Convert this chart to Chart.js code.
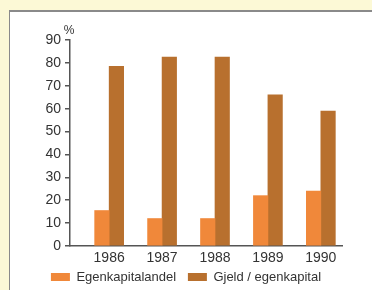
<!DOCTYPE html>
<html>
<head>
<meta charset="utf-8">
<script src="https://cdn.jsdelivr.net/npm/chart.js@4"></script>
<style>
    html, body { margin: 0; padding: 0; }
    body { width: 372px; height: 290px; background: #fcf9d6; position: relative; overflow: hidden; }
    #panel {
        position: absolute; left: 9px; top: 10px; width: 363px; height: 280px;
        background: #fff; border-left: 1.5px solid #8a8a8a; border-top: 2px solid #8a8a8a;
        box-sizing: border-box;
    }
    #wrap { position: absolute; left: 0; top: 0; width: 372px; height: 290px; }
</style>
</head>
<body>
<div id="panel"></div>
<div id="wrap"><canvas id="chart"></canvas></div>
<script>
// Data
const years = [1986, 1987, 1988, 1989, 1990];
const egenkapitalandel = [15.5, 12, 12, 22, 24];
const gjeldEgenkapital = [78.5, 82.5, 82.5, 66, 59];
const yTicks = [0, 10, 20, 30, 40, 50, 60, 70, 80, 90];

const axisColor = '#555';
const textColor = '#333';

// draws the "%" unit above the y axis
const unitLabel = {
    id: 'unitLabel',
    afterDraw(chart) {
        const y = chart.scales.y;
        const ctx = chart.ctx;
        ctx.save();
        ctx.font = '12px "Liberation Sans", Arial, sans-serif';
        ctx.fillStyle = textColor;
        ctx.textAlign = 'center';
        ctx.textBaseline = 'bottom';
        ctx.fillText('%', y.right - 1, y.top - 3);
        ctx.restore();
    }
};

new Chart(document.getElementById('chart'), {
    type: 'bar',
    data: {
        labels: years,
        datasets: [
            {
                label: 'Egenkapitalandel',
                data: egenkapitalandel,
                backgroundColor: '#f0883a',
                barThickness: 14.5
            },
            {
                label: 'Gjeld / egenkapital',
                data: gjeldEgenkapital,
                backgroundColor: '#b8702e',
                barThickness: 14.5
            }
        ]
    },
    options: {
        responsive: true,
        maintainAspectRatio: false,
        animation: false,
        layout: { padding: { left: 0, right: 0, top: 40, bottom: -3.5 } },
        plugins: {
            legend: {
                position: 'bottom',
                labels: {
                    boxWidth: 19,
                    boxHeight: 8,
                    padding: 4.5,
                    color: textColor,
                    font: { family: '"Liberation Sans", Arial, sans-serif', size: 13 },
                    // small padding keeps the legend close to the axis, so widen the gap between items with spaces
                    generateLabels: chart => {
                        const items = Chart.defaults.plugins.legend.labels.generateLabels(chart);
                        items.forEach((it, i) => { if (i < items.length - 1) it.text += '  '; });
                        return items;
                    }
                }
            },
            tooltip: { enabled: false }
        },
        scales: {
            x: {
                type: 'linear',
                min: 1985.26,
                max: 1990.4,
                offset: false,
                grid: { display: false, drawTicks: false },
                border: { display: true, color: axisColor, width: 1.5 },
                afterBuildTicks: scale => { scale.ticks = years.map(v => ({ value: v })); },
                afterFit: scale => { scale.height = 20; },
                ticks: {
                    autoSkip: false,
                    maxRotation: 0,
                    padding: 4,
                    color: textColor,
                    font: { family: '"Liberation Sans", Arial, sans-serif', size: 14 },
                    callback: v => String(v)
                }
            },
            y: {
                min: 0,
                max: 90,
                afterBuildTicks: scale => { scale.ticks = yTicks.map(v => ({ value: v })); },
                afterFit: scale => { scale.width = 70; },
                grid: { drawOnChartArea: false, drawTicks: true, tickLength: 5, color: axisColor, lineWidth: 1.5 },
                border: { display: true, color: axisColor, width: 1.5 },
                ticks: {
                    padding: 4,
                    color: textColor,
                    font: { family: '"Liberation Sans", Arial, sans-serif', size: 14 }
                }
            },
            // empty right axis to keep room on the right side
            yRight: {
                position: 'right',
                display: true,
                grid: { display: false },
                border: { display: false },
                ticks: { display: false },
                afterFit: scale => { scale.width = 30; }
            }
        }
    },
    plugins: [unitLabel]
});
</script>
</body>
</html>
